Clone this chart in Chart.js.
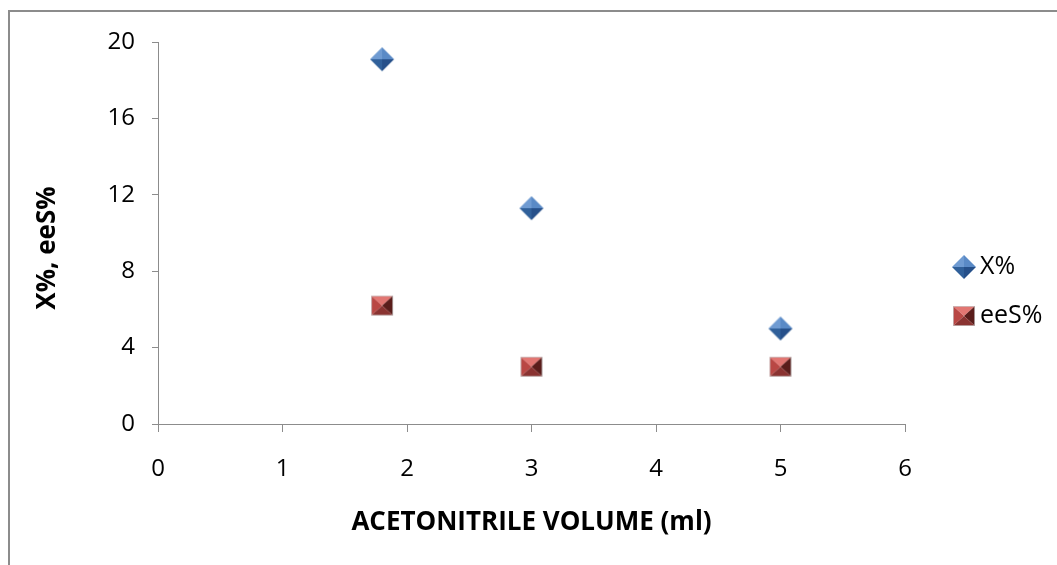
<!DOCTYPE html>
<html>
<head>
<meta charset="utf-8">
<script src="https://cdn.jsdelivr.net/npm/chart.js@4.4.1/dist/chart.umd.min.js"></script>
<style>
  html, body { margin: 0; padding: 0; background: #fff; }
  #wrap { position: relative; width: 1057px; height: 565px; }
</style>
</head>
<body>
<div id="wrap"><canvas id="chart" width="1057" height="565"></canvas></div>
<script>
// data
const volumes = [1.8, 3, 5];
const xPercent = [19.1, 11.3, 5.0];
const eesPercent = [6.2, 3.0, 3.0];
const seriesNames = ['X%', 'eeS%'];
const xTicks = [0, 1, 2, 3, 4, 5, 6];
const yTicks = [0, 4, 8, 12, 16, 20];
const xTitle = 'ACETONITRILE VOLUME (ml)';
const yTitle = 'X%, eeS%';

const FONT = '"Open Sans", Lato, sans-serif';

// little bevelled marker images, like the office "pyramid" markers
function diamondMarker() {
  const c = document.createElement('canvas');
  c.width = 26; c.height = 26;
  const g = c.getContext('2d');
  const m = 13, r = 12;
  const faces = [
    ['#6f9bd2', [m, m - r], [m - r, m]], // top-left
    ['#5a8ac6', [m, m - r], [m + r, m]], // top-right
    ['#30609a', [m - r, m], [m, m + r]], // bottom-left
    ['#26508a', [m + r, m], [m, m + r]]  // bottom-right
  ];
  faces.forEach(f => {
    g.fillStyle = f[0];
    g.beginPath();
    g.moveTo(m, m);
    g.lineTo(f[1][0], f[1][1]);
    g.lineTo(f[2][0], f[2][1]);
    g.closePath();
    g.fill();
  });
  return c;
}

function squareMarker() {
  const c = document.createElement('canvas');
  c.width = 24; c.height = 22;
  const g = c.getContext('2d');
  const l = 1, t = 1, rr = 23, b = 21, cx = 12, cy = 11;
  const faces = [
    ['#e27672', [l, t], [rr, t]],   // top
    ['#b94744', [l, t], [l, b]],    // left
    ['#5a1d1b', [rr, t], [rr, b]],  // right
    ['#8a3331', [l, b], [rr, b]]    // bottom
  ];
  faces.forEach(f => {
    g.fillStyle = f[0];
    g.beginPath();
    g.moveTo(cx, cy);
    g.lineTo(f[1][0], f[1][1]);
    g.lineTo(f[2][0], f[2][1]);
    g.closePath();
    g.fill();
  });
  g.strokeStyle = 'rgba(200,200,200,0.7)';
  g.lineWidth = 1;
  g.strokeRect(l + 0.5, t + 0.5, rr - l - 1, b - t - 1);
  return c;
}

const markers = [diamondMarker(), squareMarker()];

// outer frame (only top and left edges are visible in the reference)
const framePlugin = {
  id: 'frame',
  beforeDraw(chart) {
    const ctx = chart.ctx;
    ctx.save();
    ctx.strokeStyle = '#8c8c8c';
    ctx.lineWidth = 2;
    ctx.beginPath();
    ctx.moveTo(9, 565);
    ctx.lineTo(9, 11);
    ctx.lineTo(1057, 11);
    ctx.stroke();
    ctx.restore();
  }
};

// y title and the legend on the right
const extrasPlugin = {
  id: 'extras',
  afterDraw(chart) {
    const ctx = chart.ctx;
    ctx.save();
    ctx.fillStyle = '#000';
    ctx.textBaseline = 'middle';

    ctx.save();
    ctx.translate(48, 248);
    ctx.rotate(-Math.PI / 2);
    ctx.textAlign = 'center';
    ctx.font = 'bold 26px ' + FONT;
    ctx.fillText(yTitle, 0, 0);
    ctx.restore();

    ctx.font = '25px ' + FONT;
    ctx.textAlign = 'left';
    const rows = [267, 316];
    chart.data.datasets.forEach((ds, i) => {
      const img = markers[i];
      ctx.drawImage(img, 964 - img.width / 2, rows[i] - img.height / 2);
      ctx.fillText(ds.label, 980, rows[i]);
    });
    ctx.restore();
  }
};

new Chart(document.getElementById('chart'), {
  type: 'scatter',
  data: {
    datasets: [
      {
        label: seriesNames[0],
        data: volumes.map((v, i) => ({ x: v, y: xPercent[i] })),
        pointStyle: markers[0],
        backgroundColor: '#4f81bd'
      },
      {
        label: seriesNames[1],
        data: volumes.map((v, i) => ({ x: v, y: eesPercent[i] })),
        pointStyle: markers[1],
        backgroundColor: '#c0504d'
      }
    ]
  },
  options: {
    responsive: false,
    animation: false,
    layout: { padding: { left: 0, top: 42, right: 152, bottom: 0 } },
    plugins: {
      legend: { display: false },
      tooltip: { enabled: false }
    },
    scales: {
      x: {
        type: 'linear',
        min: 0,
        max: 6,
        afterBuildTicks(scale) { scale.ticks = xTicks.map(v => ({ value: v })); },
        afterFit(scale) { scale.height = 565 - 424; },
        border: { display: true, color: '#8c8c8c', width: 1 },
        grid: { drawOnChartArea: false, drawTicks: true, tickLength: 8, color: '#8c8c8c' },
        ticks: { color: '#000', font: { family: FONT, size: 24 }, padding: 23 },
        title: {
          display: true,
          text: xTitle,
          color: '#000',
          font: { family: FONT, size: 26, weight: 'bold', lineHeight: 1 },
          padding: { top: 0, bottom: 29 }
        }
      },
      y: {
        min: 0,
        max: 20,
        afterBuildTicks(scale) { scale.ticks = yTicks.map(v => ({ value: v })); },
        afterFit(scale) { scale.width = 158; },
        border: { display: true, color: '#8c8c8c', width: 1 },
        grid: { drawOnChartArea: false, drawTicks: true, tickLength: 6, color: '#8c8c8c' },
        ticks: { color: '#000', font: { family: FONT, size: 24 }, padding: 17 },
        title: { display: false, text: yTitle }
      }
    }
  },
  plugins: [framePlugin, extrasPlugin]
});
</script>
</body>
</html>
